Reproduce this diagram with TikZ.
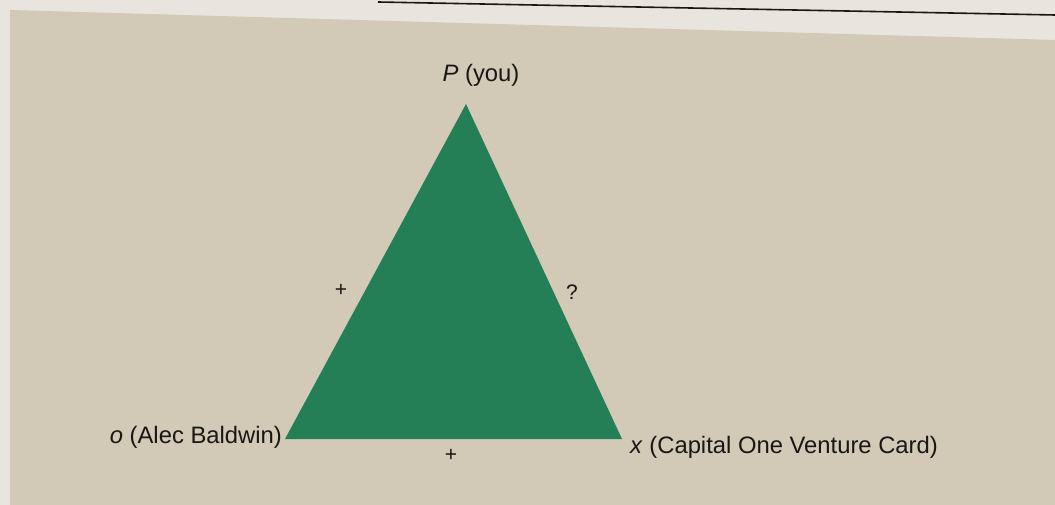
\documentclass[tikz,border=0pt]{standalone}
\usepackage{fontspec}
\setmainfont{Liberation Sans}
\definecolor{page}{RGB}{232,229,222}
\definecolor{boxbg}{RGB}{210,201,182}
\definecolor{tri}{RGB}{36,126,86}
\definecolor{ink}{RGB}{25,22,20}
\begin{document}
\begin{tikzpicture}[x=1pt,y=-1pt,
  lbl/.style={font=\fontsize{23.8}{27}\selectfont, text=ink, inner sep=0pt},
  sgn/.style={font=\fontsize{21}{24}\selectfont, text=ink, inner sep=0pt}]
\useasboundingbox (0,0) rectangle (1055,505);
\fill[page] (0,0) rectangle (1055,505);
\fill[boxbg] (10,10) -- (1055,40) -- (1055,505) -- (10,505) -- cycle;
\coordinate (r1) at (378,2);
\coordinate (r2) at (1055,15);
\draw[ink, line width=1.6pt] (r1) -- (r2);
\coordinate (P) at (466,104);
\coordinate (O) at (285,439);
\coordinate (X) at (622,439);
\fill[tri] (P) -- (O) -- (X) -- cycle;
\node[lbl] (lp) at (481,75) {\textit{P} (you)};
\node[lbl, anchor=east] (lo) at (282,437) {\textit{o} (Alec Baldwin)};
\node[lbl, anchor=west] (lx) at (630,447) {\textit{x} (Capital One Venture Card)};
\node[sgn] (s1) at (341,290) {+};
\node[sgn] (s2) at (572,292) {?};
\node[sgn] (s3) at (451,455) {+};
\end{tikzpicture}
\end{document}
